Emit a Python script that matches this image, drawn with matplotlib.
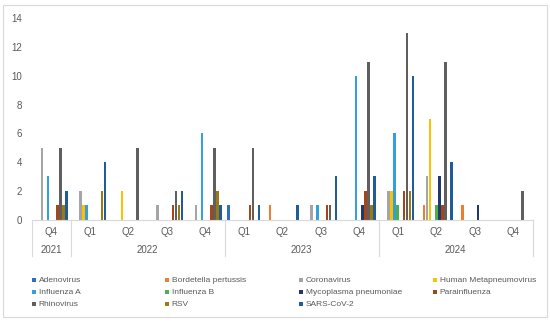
import numpy as np
import matplotlib
matplotlib.use('Agg')
import matplotlib.pyplot as plt
from matplotlib.patches import Rectangle
from matplotlib.lines import Line2D

# categories (quarter / year, two-level axis)
quarters = ['Q4', 'Q1', 'Q2', 'Q3', 'Q4', 'Q1', 'Q2', 'Q3', 'Q4', 'Q1', 'Q2', 'Q3', 'Q4']
years = ['2021', '2022', '2023', '2024']
year_sizes = [1, 4, 4, 4]

# counts per pathogen, one value per quarter
adenovirus = [0, 0, 0, 0, 0, 1, 0, 0, 0, 0, 0, 0, 0]
bordetella = [0, 0, 0, 0, 0, 0, 1, 0, 0, 0, 1, 1, 0]
coronavirus = [5, 2, 0, 1, 1, 0, 0, 1, 0, 2, 3, 0, 0]
hmpv = [0, 1, 2, 0, 0, 0, 0, 0, 0, 2, 7, 0, 0]
influenza_a = [3, 1, 0, 0, 6, 0, 0, 1, 10, 6, 0, 0, 0]
influenza_b = [0, 0, 0, 0, 0, 0, 0, 0, 0, 1, 1, 0, 0]
mycoplasma = [0, 0, 0, 0, 0, 0, 0, 0, 1, 0, 3, 1, 0]
parainfluenza = [1, 0, 0, 1, 1, 1, 0, 1, 2, 2, 1, 0, 0]
rhinovirus = [5, 0, 5, 2, 5, 5, 0, 1, 11, 13, 11, 0, 2]
rsv = [1, 2, 0, 1, 2, 0, 0, 0, 1, 2, 0, 0, 0]
sars_cov_2 = [2, 4, 0, 2, 1, 1, 1, 3, 3, 10, 4, 0, 0]

series = ['Adenovirus', 'Bordetella pertussis', 'Coronavirus', 'Human Metapneumovirus',
          'Influenza A', 'Influenza B', 'Mycoplasma pneumoniae', 'Parainfluenza',
          'Rhinovirus', 'RSV', 'SARS-CoV-2']
values = [adenovirus, bordetella, coronavirus, hmpv, influenza_a, influenza_b,
          mycoplasma, parainfluenza, rhinovirus, rsv, sars_cov_2]
colors = ['#2A72BF', '#ED7D31', '#A5A5A5', '#FFC000', '#33A0DC', '#4CAF50',
          '#1F3A6A', '#A5461A', '#5F5F5F', '#9C7A12', '#1F5C99']

plt.rcParams['font.family'] = ['Liberation Sans', 'DejaVu Sans']
txt = '#595959'

W, H = 550, 323
fig = plt.figure(figsize=(W / 100, H / 100), dpi=100)
ax = fig.add_axes([32 / W, 1 - 219.5 / H, 500.5 / W, 201 / H])

# clustered bars
x = np.arange(len(quarters))
n = len(series)
step = 0.08
for k in range(n):
    ax.bar(x + (k - (n - 1) / 2) * step, values[k], width=0.066, color=colors[k], label=series[k])

ax.set_xlim(-0.5, len(quarters) - 0.5)
ax.set_ylim(0, 14)
ax.set_yticks(range(0, 15, 2))
ax.tick_params(axis='y', length=0, pad=7, labelsize=7, labelcolor=txt)
ax.set_xticks([])
for s in ['top', 'right', 'left']:
    ax.spines[s].set_visible(False)
ax.spines['bottom'].set_color('#D9D9D9')
ax.spines['bottom'].set_linewidth(0.8)

# two-level category axis
tr = ax.get_xaxis_transform()
for i, q in enumerate(quarters):
    ax.text(i, -0.062, q, transform=tr, ha='center', va='center', fontsize=7, color=txt)
edges = np.concatenate([[0], np.cumsum(year_sizes)]) - 0.5
for j, yr in enumerate(years):
    ax.text((edges[j] + edges[j + 1]) / 2, -0.152, yr, transform=tr,
            ha='center', va='center', fontsize=7, color=txt)
for e in edges:
    ax.add_line(Line2D([e, e], [0, -0.18], transform=tr, color='#D9D9D9',
                       lw=0.8, clip_on=False))

# legend laid out like the original (row-wise, 4 columns)
col_x = [32, 165, 299, 433]
row_y = [280, 292, 304]
for k, name in enumerate(series):
    cx = col_x[k % 4]
    cy = row_y[k // 4]
    fig.add_artist(Rectangle(((cx) / W, 1 - (cy + 2.2) / H), 4.4 / W, 4.4 / H,
                             transform=fig.transFigure, color=colors[k], lw=0))
    fig.text((cx + 6.5) / W, 1 - cy / H, name, ha='left', va='center', fontsize=6, color=txt)

# chart border
fig.add_artist(Rectangle((3 / W, 1 - 317 / H), 544 / W, 312 / H, transform=fig.transFigure,
                         fill=False, edgecolor='#D9D9D9', lw=0.8))

fig.savefig('out.png', dpi=100)
